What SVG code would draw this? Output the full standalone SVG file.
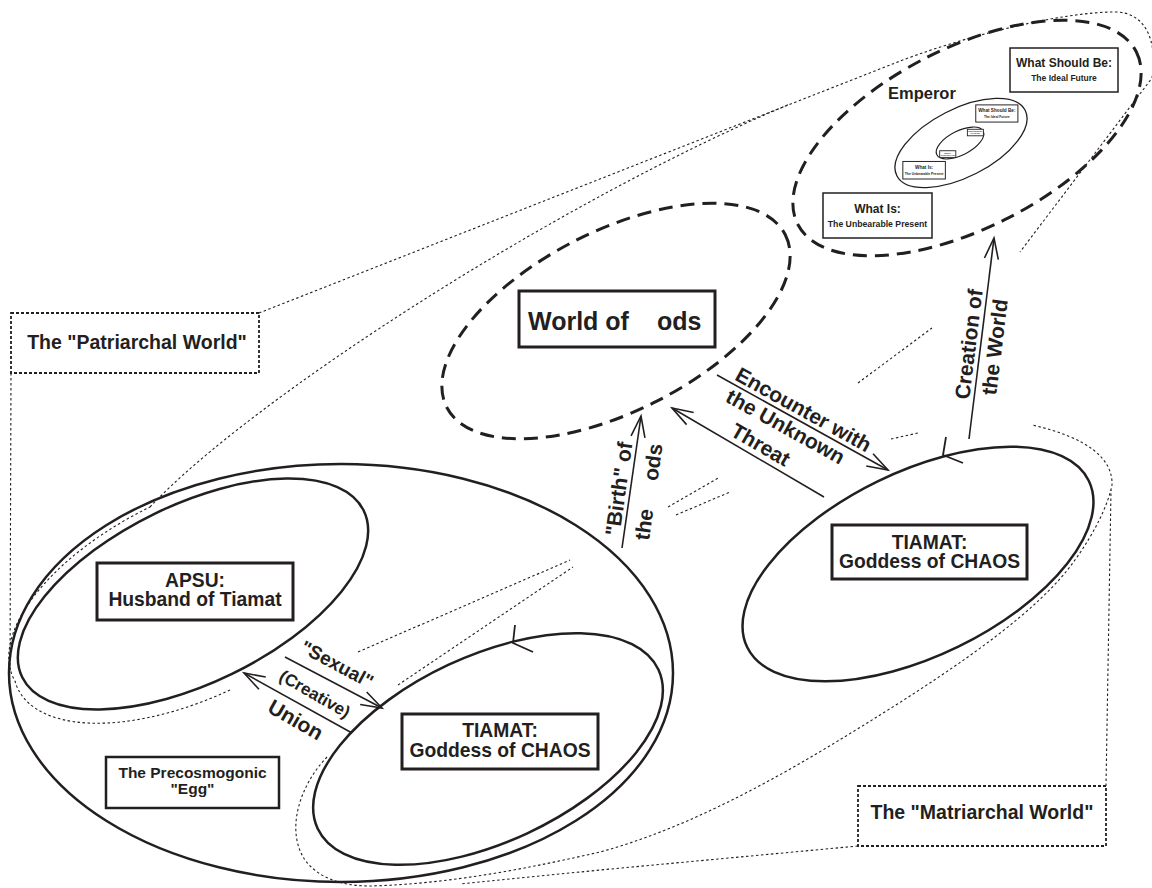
<svg xmlns="http://www.w3.org/2000/svg" width="1152" height="888" viewBox="0 0 1152 888">
<style>
.solid{fill:none;stroke:#231f20;stroke-width:2.5}
.thinsolid{fill:none;stroke:#231f20;stroke-width:1.3}
.dash{fill:none;stroke:#231f20;stroke-width:3;stroke-dasharray:14 8}
.dot{fill:none;stroke:#231f20;stroke-width:1.1;stroke-dasharray:2.5 2.5}
.dotbox{fill:#fff;stroke:#231f20;stroke-width:1.8;stroke-dasharray:3 2}
.box{fill:#fff;stroke:#231f20;stroke-width:3}
.tbox{fill:#fff;stroke:#231f20;stroke-width:1.5}
.arrow{fill:none;stroke:#231f20;stroke-width:1.6;marker-end:url(#ah)}
text{font-family:"Liberation Sans",Arial,Helvetica,sans-serif;font-weight:bold;fill:#231f20}
.c{text-anchor:middle}
.lbl{font-size:21px;text-anchor:middle}
.nb{font-size:19.3px;text-anchor:middle}
</style>
<defs>
<marker id="ah" markerUnits="userSpaceOnUse" markerWidth="30" markerHeight="20" viewBox="-25 -10 30 20" refX="0" refY="0" orient="auto" overflow="visible">
<path d="M-21,-7 L0,0 L-21,7" fill="none" stroke="#231f20" stroke-width="1.6"/>
</marker>
</defs>
<rect width="1152" height="888" fill="#fff"/>

<g id="envelopes">
<!-- Patriarchal world -->
<path class="dot" d="M11,373 L10,673"/>
<path class="dot" d="M259,313 L890,65 C960,37 1060,12 1115,12 C1145,12 1158,40 1152,78 L1020,252"/>
<path class="dot" d="M150,507 C250,400 560,200 790,104"/>
<path class="dot" d="M230,690 A198,94 -26 0 1 15,681 A198,94 -26 0 1 150,507"/>
<path class="dot" d="M358,652 L570,560 M668,507 L720,477 M858,383 L932,328"/>
<!-- Matriarchal world -->
<path class="dot" d="M1106,786 L1111,490"/>
<path class="dot" d="M858,846 L600,870 L460,884"/>
<path class="dot" d="M327,757 C300,785 285,830 305,860 C320,880 345,886 370,886 C450,884 530,868 600,852 C700,825 800,765 880,715 C960,665 1040,610 1075,560 C1095,532 1108,505 1112,485 C1113,460 1090,438 1032,425"/>
<path class="dot" d="M398,685 L573,567 M676,515 L730,492 M891,439 L918,433"/>
</g>

<g id="egg">
<ellipse class="solid" cx="341" cy="673" rx="332" ry="209"/>
<rect class="box" x="106" y="757" width="173" height="51" style="stroke-width:2.5"/>
<text class="c" x="192.5" y="778" font-size="15.5">The Precosmogonic</text>
<text class="c" x="192.5" y="794" font-size="15.5">"Egg"</text>
</g>

<g id="apsu">
<ellipse class="solid" cx="193" cy="594" rx="190" ry="89" transform="rotate(-26 193 594)"/>
<rect class="box" x="97" y="563" width="196" height="57"/>
<text class="nb" x="195" y="587">APSU:</text>
<text class="nb" x="195" y="606">Husband of Tiamat</text>
</g>

<g id="tiamat-egg">
<ellipse class="solid" cx="488" cy="749" rx="188" ry="93" transform="rotate(-25 488 749)"/>
<polyline class="solid" style="stroke-width:1.8" points="515,625 513,643 533,652"/>
<rect class="box" x="402" y="714" width="196" height="55"/>
<text class="nb" x="500" y="737">TIAMAT:</text>
<text class="nb" x="500" y="757">Goddess of CHAOS</text>
</g>

<g id="tiamat-right">
<ellipse class="solid" cx="918" cy="564" rx="190" ry="92" transform="rotate(-26 918 564)"/>
<polyline class="solid" style="stroke-width:1.8" points="946,437 943,455 963,463"/>
<rect class="box" x="832" y="525" width="195" height="54"/>
<text class="nb" x="929.5" y="549">TIAMAT:</text>
<text class="nb" x="929.5" y="568">Goddess of CHAOS</text>
</g>

<g id="world-of-gods">
<ellipse class="dash" cx="616" cy="321" rx="190" ry="90" transform="rotate(-27 616 321)"/>
<rect class="box" x="519" y="291" width="196" height="56"/>
<text x="528" y="330" font-size="25">World of<tspan x="657">ods</tspan></text>
</g>

<g id="emperor">
<ellipse class="dash" cx="967" cy="138" rx="190" ry="90" transform="rotate(-27 967 138)"/>
<text x="888" y="99" font-size="16.5">Emperor</text>
<g id="wsb">
<rect class="tbox" x="1010" y="48" width="108" height="44"/>
<text class="c" x="1064" y="67" font-size="12">What Should Be:</text>
<text class="c" x="1064" y="81" font-size="8.5">The Ideal Future</text>
</g>
<g id="wi">
<rect class="tbox" x="823" y="193" width="109" height="45"/>
<text class="c" x="877.5" y="213" font-size="12">What Is:</text>
<text class="c" x="877.5" y="227" font-size="8.7">The Unbearable Present</text>
</g>
<ellipse class="thinsolid" cx="961" cy="143" rx="72" ry="34" transform="rotate(-27 961 143)"/>
<g transform="translate(959,140) scale(0.39) translate(-967,-138)">
<rect class="tbox" x="1010" y="48" width="108" height="44" style="stroke-width:2.5"/>
<text class="c" x="1064" y="67" font-size="12">What Should Be:</text>
<text class="c" x="1064" y="81" font-size="8.5">The Ideal Future</text>
<rect class="tbox" x="823" y="193" width="109" height="45" style="stroke-width:2.5"/>
<text class="c" x="877.5" y="213" font-size="12">What Is:</text>
<text class="c" x="877.5" y="227" font-size="8.7">The Unbearable Present</text>
</g>
<ellipse class="thinsolid" style="stroke-width:1.1" cx="960" cy="143" rx="26" ry="12" transform="rotate(-27 960 143)"/>
<g transform="translate(961,142.6) scale(0.148) translate(-967,-138)">
<rect class="tbox" x="1010" y="48" width="108" height="44" style="stroke-width:6"/>
<text class="c" x="1064" y="67" font-size="12">What Should Be:</text>
<text class="c" x="1064" y="81" font-size="8.5">The Ideal Future</text>
<rect class="tbox" x="823" y="193" width="109" height="45" style="stroke-width:6"/>
<text class="c" x="877.5" y="213" font-size="12">What Is:</text>
<text class="c" x="877.5" y="227" font-size="8.7">The Unbearable Present</text>
</g>
</g>

<g id="patriarchal-label">
<rect class="dotbox" x="11" y="313" width="248" height="60"/>
<text class="c" x="137" y="349" font-size="19.5">The "Patriarchal World"</text>
</g>

<g id="matriarchal-label">
<rect class="dotbox" x="858" y="786" width="248" height="60"/>
<text class="c" x="982" y="819" font-size="19.5">The "Matriarchal World"</text>
</g>

<g id="connectors">
<path class="arrow" d="M622,548 L641,416"/>
<path class="arrow" d="M717,375 L888,470"/>
<path class="arrow" d="M824,497 L672,408"/>
<path class="arrow" d="M969,439 L994,238"/>
<path class="arrow" d="M285,657 L382,708"/>
<path class="arrow" d="M352,733 L244,673"/>
</g>

<g id="connector-labels">
<text class="lbl" transform="translate(626,490) rotate(-82)">"Birth" of</text>
<text font-size="21" transform="translate(656,492) rotate(-82)"><tspan x="-49.5">the</tspan><tspan x="10.5">ods</tspan></text>
<text class="lbl" transform="translate(800,416) rotate(29)">Encounter with</text>
<text class="lbl" transform="translate(782,433) rotate(29)">the Unknown</text>
<text class="lbl" transform="translate(757,451) rotate(30)">Threat</text>
<text class="lbl" transform="translate(976,345) rotate(-83)">Creation of</text>
<text class="lbl" transform="translate(1002,348) rotate(-83)">the World</text>
<text class="c" font-size="19" transform="translate(334,670) rotate(28)">"Sexual"</text>
<text class="c" font-size="17" transform="translate(312,699) rotate(30)">(Creative)</text>
<text class="c" font-size="21" transform="translate(292,726) rotate(30)">Union</text>
</g>
</svg>
